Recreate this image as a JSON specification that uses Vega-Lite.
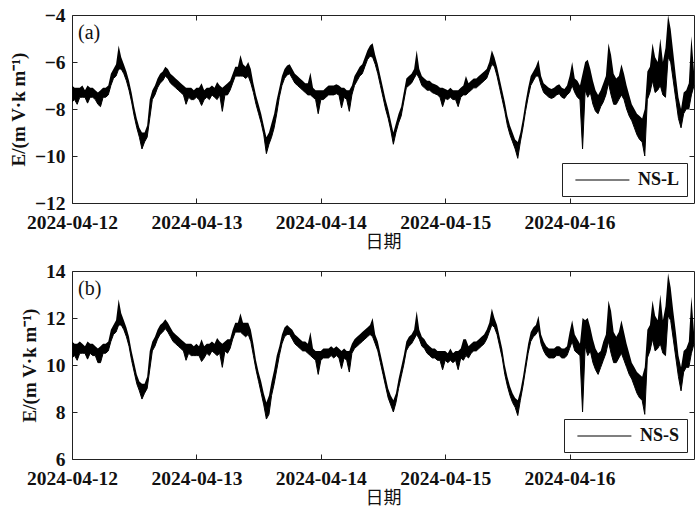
{
"$schema": "https://vega.github.io/schema/vega-lite/v6.json",
"autosize": {"type": "pad"},
"padding": {"left": 8, "top": 4, "right": 6, "bottom": 5},
"background": "white",
"bounds": "flush",
"spacing": 68,
"data": {"values": [
{"t":"2024-04-12T00:00","al":-7.7,"ah":-7.0,"bl":10.3,"bh":11.0},
{"t":"2024-04-12T00:30","al":-7.6,"ah":-7.1,"bl":10.4,"bh":10.9},
{"t":"2024-04-12T01:00","al":-7.8,"ah":-7.1,"bl":10.2,"bh":10.9},
{"t":"2024-04-12T01:30","al":-7.5,"ah":-7.1,"bl":10.5,"bh":11.0},
{"t":"2024-04-12T02:00","al":-7.5,"ah":-7.0,"bl":10.5,"bh":10.9},
{"t":"2024-04-12T02:30","al":-7.5,"ah":-7.2,"bl":10.5,"bh":10.8},
{"t":"2024-04-12T03:00","al":-7.75,"ah":-7.0,"bl":10.25,"bh":11.0},
{"t":"2024-04-12T03:30","al":-7.5,"ah":-7.1,"bl":10.5,"bh":10.9},
{"t":"2024-04-12T04:00","al":-7.5,"ah":-7.1,"bl":10.4,"bh":10.9},
{"t":"2024-04-12T04:30","al":-7.6,"ah":-7.2,"bl":10.4,"bh":10.8},
{"t":"2024-04-12T05:00","al":-7.8,"ah":-7.3,"bl":10.1,"bh":10.7},
{"t":"2024-04-12T05:30","al":-7.9,"ah":-7.2,"bl":10.1,"bh":10.8},
{"t":"2024-04-12T06:00","al":-7.5,"ah":-7.1,"bl":10.5,"bh":10.9},
{"t":"2024-04-12T06:30","al":-7.5,"ah":-7.1,"bl":10.5,"bh":10.9},
{"t":"2024-04-12T07:00","al":-7.4,"ah":-7.0,"bl":10.6,"bh":11.0},
{"t":"2024-04-12T07:30","al":-7.0,"ah":-6.5,"bl":11.0,"bh":11.5},
{"t":"2024-04-12T08:00","al":-6.7,"ah":-6.3,"bl":11.3,"bh":11.7},
{"t":"2024-04-12T08:30","al":-6.6,"ah":-6.1,"bl":11.4,"bh":11.9},
{"t":"2024-04-12T09:00","al":-6.3,"ah":-5.3,"bl":11.7,"bh":12.8},
{"t":"2024-04-12T09:30","al":-6.3,"ah":-5.8,"bl":11.7,"bh":12.2},
{"t":"2024-04-12T10:00","al":-6.5,"ah":-6.1,"bl":11.5,"bh":11.9},
{"t":"2024-04-12T10:30","al":-6.8,"ah":-6.4,"bl":11.2,"bh":11.6},
{"t":"2024-04-12T11:00","al":-7.2,"ah":-6.8,"bl":10.8,"bh":11.2},
{"t":"2024-04-12T11:30","al":-7.7,"ah":-7.3,"bl":10.2,"bh":10.6},
{"t":"2024-04-12T12:00","al":-8.3,"ah":-7.9,"bl":9.7,"bh":10.1},
{"t":"2024-04-12T12:30","al":-8.8,"ah":-8.4,"bl":9.2,"bh":9.6},
{"t":"2024-04-12T13:00","al":-9.2,"ah":-8.8,"bl":8.9,"bh":9.3},
{"t":"2024-04-12T13:30","al":-9.7,"ah":-9.0,"bl":8.55,"bh":9.2},
{"t":"2024-04-12T14:00","al":-9.4,"ah":-9.0,"bl":8.8,"bh":9.2},
{"t":"2024-04-12T14:30","al":-9.2,"ah":-8.7,"bl":9.0,"bh":9.5},
{"t":"2024-04-12T15:00","al":-8.4,"ah":-7.6,"bl":9.8,"bh":10.6},
{"t":"2024-04-12T15:30","al":-7.6,"ah":-7.2,"bl":10.6,"bh":11.0},
{"t":"2024-04-12T16:00","al":-7.4,"ah":-7.0,"bl":10.8,"bh":11.2},
{"t":"2024-04-12T16:30","al":-7.1,"ah":-6.7,"bl":11.1,"bh":11.5},
{"t":"2024-04-12T17:00","al":-6.9,"ah":-6.5,"bl":11.3,"bh":11.7},
{"t":"2024-04-12T17:30","al":-6.8,"ah":-6.4,"bl":11.4,"bh":11.8},
{"t":"2024-04-12T18:00","al":-6.6,"ah":-6.2,"bl":11.55,"bh":11.95},
{"t":"2024-04-12T18:30","al":-6.7,"ah":-6.3,"bl":11.4,"bh":11.8},
{"t":"2024-04-12T19:00","al":-6.9,"ah":-6.5,"bl":11.2,"bh":11.6},
{"t":"2024-04-12T19:30","al":-7.0,"ah":-6.6,"bl":11.0,"bh":11.4},
{"t":"2024-04-12T20:00","al":-7.1,"ah":-6.7,"bl":10.9,"bh":11.3},
{"t":"2024-04-12T20:30","al":-7.2,"ah":-6.8,"bl":10.8,"bh":11.2},
{"t":"2024-04-12T21:00","al":-7.3,"ah":-6.9,"bl":10.7,"bh":11.1},
{"t":"2024-04-12T21:30","al":-7.4,"ah":-7.0,"bl":10.6,"bh":11.0},
{"t":"2024-04-12T22:00","al":-7.8,"ah":-7.1,"bl":10.2,"bh":10.9},
{"t":"2024-04-12T22:30","al":-7.5,"ah":-7.1,"bl":10.5,"bh":10.9},
{"t":"2024-04-12T23:00","al":-7.6,"ah":-7.1,"bl":10.4,"bh":10.9},
{"t":"2024-04-12T23:30","al":-7.6,"ah":-7.2,"bl":10.4,"bh":10.8},
{"t":"2024-04-13T00:00","al":-7.5,"ah":-7.1,"bl":10.4,"bh":10.9},
{"t":"2024-04-13T00:30","al":-7.6,"ah":-7.1,"bl":10.4,"bh":10.8},
{"t":"2024-04-13T01:00","al":-7.85,"ah":-6.9,"bl":10.15,"bh":11.1},
{"t":"2024-04-13T01:30","al":-7.6,"ah":-7.2,"bl":10.3,"bh":10.8},
{"t":"2024-04-13T02:00","al":-7.5,"ah":-7.1,"bl":10.5,"bh":10.9},
{"t":"2024-04-13T02:30","al":-7.6,"ah":-7.1,"bl":10.4,"bh":10.9},
{"t":"2024-04-13T03:00","al":-7.4,"ah":-7.0,"bl":10.6,"bh":11.0},
{"t":"2024-04-13T03:30","al":-7.5,"ah":-7.1,"bl":10.5,"bh":10.9},
{"t":"2024-04-13T04:00","al":-7.6,"ah":-6.85,"bl":10.4,"bh":11.15},
{"t":"2024-04-13T04:30","al":-7.4,"ah":-7.0,"bl":10.5,"bh":11.0},
{"t":"2024-04-13T05:00","al":-8.1,"ah":-7.1,"bl":9.9,"bh":10.9},
{"t":"2024-04-13T05:30","al":-7.4,"ah":-7.0,"bl":10.6,"bh":11.0},
{"t":"2024-04-13T06:00","al":-7.4,"ah":-6.9,"bl":10.5,"bh":11.1},
{"t":"2024-04-13T06:30","al":-7.2,"ah":-6.8,"bl":10.7,"bh":11.1},
{"t":"2024-04-13T07:00","al":-6.9,"ah":-6.5,"bl":11.1,"bh":11.5},
{"t":"2024-04-13T07:30","al":-6.6,"ah":-6.2,"bl":11.4,"bh":11.8},
{"t":"2024-04-13T08:00","al":-6.6,"ah":-6.2,"bl":11.4,"bh":11.8},
{"t":"2024-04-13T08:30","al":-6.6,"ah":-5.7,"bl":11.4,"bh":12.2},
{"t":"2024-04-13T09:00","al":-6.6,"ah":-6.1,"bl":11.3,"bh":11.8},
{"t":"2024-04-13T09:30","al":-6.7,"ah":-6.2,"bl":11.2,"bh":11.8},
{"t":"2024-04-13T10:00","al":-6.6,"ah":-6.0,"bl":11.3,"bh":11.8},
{"t":"2024-04-13T10:30","al":-6.9,"ah":-6.3,"bl":11.0,"bh":11.5},
{"t":"2024-04-13T11:00","al":-7.3,"ah":-6.9,"bl":10.4,"bh":10.9},
{"t":"2024-04-13T11:30","al":-7.8,"ah":-7.4,"bl":9.8,"bh":10.2},
{"t":"2024-04-13T12:00","al":-8.2,"ah":-7.8,"bl":9.3,"bh":9.7},
{"t":"2024-04-13T12:30","al":-8.6,"ah":-8.2,"bl":8.8,"bh":9.3},
{"t":"2024-04-13T13:00","al":-9.1,"ah":-8.7,"bl":8.3,"bh":8.8},
{"t":"2024-04-13T13:30","al":-9.9,"ah":-9.2,"bl":7.7,"bh":8.4},
{"t":"2024-04-13T14:00","al":-9.5,"ah":-9.0,"bl":7.9,"bh":8.7},
{"t":"2024-04-13T14:30","al":-9.2,"ah":-8.6,"bl":8.7,"bh":9.3},
{"t":"2024-04-13T15:00","al":-8.8,"ah":-8.2,"bl":9.2,"bh":9.8},
{"t":"2024-04-13T15:30","al":-8.2,"ah":-7.6,"bl":9.8,"bh":10.4},
{"t":"2024-04-13T16:00","al":-7.5,"ah":-7.1,"bl":10.4,"bh":10.8},
{"t":"2024-04-13T16:30","al":-7.0,"ah":-6.6,"bl":10.9,"bh":11.3},
{"t":"2024-04-13T17:00","al":-6.7,"ah":-6.3,"bl":11.2,"bh":11.6},
{"t":"2024-04-13T17:30","al":-6.55,"ah":-6.15,"bl":11.3,"bh":11.7},
{"t":"2024-04-13T18:00","al":-6.5,"ah":-6.1,"bl":11.3,"bh":11.6},
{"t":"2024-04-13T18:30","al":-6.7,"ah":-6.3,"bl":11.1,"bh":11.5},
{"t":"2024-04-13T19:00","al":-6.9,"ah":-6.5,"bl":10.9,"bh":11.3},
{"t":"2024-04-13T19:30","al":-7.0,"ah":-6.6,"bl":10.8,"bh":11.2},
{"t":"2024-04-13T20:00","al":-7.1,"ah":-6.7,"bl":10.7,"bh":11.1},
{"t":"2024-04-13T20:30","al":-7.2,"ah":-6.8,"bl":10.6,"bh":11.0},
{"t":"2024-04-13T21:00","al":-7.3,"ah":-6.9,"bl":10.6,"bh":11.0},
{"t":"2024-04-13T21:30","al":-7.4,"ah":-6.9,"bl":10.5,"bh":10.9},
{"t":"2024-04-13T22:00","al":-7.4,"ah":-6.45,"bl":10.4,"bh":11.4},
{"t":"2024-04-13T22:30","al":-7.5,"ah":-7.1,"bl":10.3,"bh":10.7},
{"t":"2024-04-13T23:00","al":-7.6,"ah":-7.2,"bl":10.2,"bh":10.6},
{"t":"2024-04-13T23:30","al":-8.2,"ah":-7.2,"bl":9.6,"bh":10.6},
{"t":"2024-04-14T00:00","al":-7.6,"ah":-7.2,"bl":10.2,"bh":10.6},
{"t":"2024-04-14T00:30","al":-7.6,"ah":-7.2,"bl":10.3,"bh":10.7},
{"t":"2024-04-14T01:00","al":-7.5,"ah":-7.1,"bl":10.3,"bh":10.7},
{"t":"2024-04-14T01:30","al":-7.4,"ah":-7.0,"bl":10.3,"bh":10.7},
{"t":"2024-04-14T02:00","al":-7.4,"ah":-7.0,"bl":10.4,"bh":10.8},
{"t":"2024-04-14T02:30","al":-7.4,"ah":-7.0,"bl":10.3,"bh":10.7},
{"t":"2024-04-14T03:00","al":-7.35,"ah":-6.95,"bl":10.4,"bh":10.8},
{"t":"2024-04-14T03:30","al":-7.4,"ah":-7.0,"bl":10.3,"bh":10.7},
{"t":"2024-04-14T04:00","al":-7.95,"ah":-7.1,"bl":9.85,"bh":10.6},
{"t":"2024-04-14T04:30","al":-7.5,"ah":-7.1,"bl":10.3,"bh":10.7},
{"t":"2024-04-14T05:00","al":-7.6,"ah":-7.2,"bl":10.2,"bh":10.6},
{"t":"2024-04-14T05:30","al":-8.1,"ah":-7.2,"bl":9.7,"bh":10.6},
{"t":"2024-04-14T06:00","al":-7.4,"ah":-7.0,"bl":10.5,"bh":10.9},
{"t":"2024-04-14T06:30","al":-7.0,"ah":-6.6,"bl":10.7,"bh":11.1},
{"t":"2024-04-14T07:00","al":-6.8,"ah":-6.4,"bl":10.8,"bh":11.2},
{"t":"2024-04-14T07:30","al":-6.6,"ah":-6.2,"bl":10.9,"bh":11.3},
{"t":"2024-04-14T08:00","al":-6.5,"ah":-6.1,"bl":11.0,"bh":11.4},
{"t":"2024-04-14T08:30","al":-6.2,"ah":-5.8,"bl":11.1,"bh":11.5},
{"t":"2024-04-14T09:00","al":-5.9,"ah":-5.5,"bl":11.2,"bh":11.6},
{"t":"2024-04-14T09:30","al":-5.75,"ah":-5.3,"bl":11.3,"bh":11.7},
{"t":"2024-04-14T10:00","al":-5.8,"ah":-5.2,"bl":11.2,"bh":12.0},
{"t":"2024-04-14T10:30","al":-6.1,"ah":-5.7,"bl":10.9,"bh":11.3},
{"t":"2024-04-14T11:00","al":-6.5,"ah":-6.1,"bl":10.6,"bh":11.0},
{"t":"2024-04-14T11:30","al":-7.0,"ah":-6.6,"bl":10.1,"bh":10.5},
{"t":"2024-04-14T12:00","al":-7.5,"ah":-7.1,"bl":9.6,"bh":10.0},
{"t":"2024-04-14T12:30","al":-8.0,"ah":-7.6,"bl":9.1,"bh":9.5},
{"t":"2024-04-14T13:00","al":-8.4,"ah":-8.0,"bl":8.6,"bh":9.0},
{"t":"2024-04-14T13:30","al":-8.9,"ah":-8.5,"bl":8.3,"bh":8.7},
{"t":"2024-04-14T14:00","al":-9.5,"ah":-9.0,"bl":8.0,"bh":8.5},
{"t":"2024-04-14T14:30","al":-9.0,"ah":-8.6,"bl":8.4,"bh":8.8},
{"t":"2024-04-14T15:00","al":-8.6,"ah":-8.2,"bl":9.0,"bh":9.4},
{"t":"2024-04-14T15:30","al":-8.3,"ah":-7.9,"bl":9.5,"bh":9.9},
{"t":"2024-04-14T16:00","al":-7.7,"ah":-7.3,"bl":10.0,"bh":10.4},
{"t":"2024-04-14T16:30","al":-7.1,"ah":-6.7,"bl":10.6,"bh":11.0},
{"t":"2024-04-14T17:00","al":-7.0,"ah":-6.6,"bl":10.8,"bh":11.2},
{"t":"2024-04-14T17:30","al":-6.9,"ah":-6.5,"bl":10.9,"bh":11.3},
{"t":"2024-04-14T18:00","al":-6.7,"ah":-6.3,"bl":11.1,"bh":11.5},
{"t":"2024-04-14T18:30","al":-6.5,"ah":-5.5,"bl":11.3,"bh":12.3},
{"t":"2024-04-14T19:00","al":-6.7,"ah":-6.3,"bl":11.1,"bh":11.5},
{"t":"2024-04-14T19:30","al":-7.0,"ah":-6.6,"bl":10.8,"bh":11.2},
{"t":"2024-04-14T20:00","al":-7.1,"ah":-6.7,"bl":10.7,"bh":11.1},
{"t":"2024-04-14T20:30","al":-7.2,"ah":-6.8,"bl":10.5,"bh":10.9},
{"t":"2024-04-14T21:00","al":-7.2,"ah":-6.8,"bl":10.4,"bh":10.8},
{"t":"2024-04-14T21:30","al":-7.3,"ah":-6.9,"bl":10.3,"bh":10.7},
{"t":"2024-04-14T22:00","al":-7.35,"ah":-6.95,"bl":10.3,"bh":10.7},
{"t":"2024-04-14T22:30","al":-7.4,"ah":-7.0,"bl":10.2,"bh":10.6},
{"t":"2024-04-14T23:00","al":-7.5,"ah":-7.1,"bl":10.2,"bh":10.6},
{"t":"2024-04-14T23:30","al":-7.9,"ah":-7.1,"bl":9.8,"bh":10.6},
{"t":"2024-04-15T00:00","al":-7.55,"ah":-7.15,"bl":10.2,"bh":10.6},
{"t":"2024-04-15T00:30","al":-7.6,"ah":-7.2,"bl":10.1,"bh":10.5},
{"t":"2024-04-15T01:00","al":-7.5,"ah":-7.1,"bl":10.2,"bh":10.7},
{"t":"2024-04-15T01:30","al":-7.6,"ah":-7.2,"bl":10.1,"bh":10.5},
{"t":"2024-04-15T02:00","al":-7.6,"ah":-7.2,"bl":10.2,"bh":10.6},
{"t":"2024-04-15T02:30","al":-7.9,"ah":-7.2,"bl":9.8,"bh":10.6},
{"t":"2024-04-15T03:00","al":-7.5,"ah":-7.1,"bl":10.3,"bh":10.7},
{"t":"2024-04-15T03:30","al":-7.4,"ah":-7.0,"bl":10.2,"bh":11.1},
{"t":"2024-04-15T04:00","al":-7.4,"ah":-6.6,"bl":10.4,"bh":11.1},
{"t":"2024-04-15T04:30","al":-7.3,"ah":-6.9,"bl":10.3,"bh":10.8},
{"t":"2024-04-15T05:00","al":-7.2,"ah":-6.8,"bl":10.5,"bh":10.9},
{"t":"2024-04-15T05:30","al":-7.1,"ah":-6.7,"bl":10.6,"bh":11.0},
{"t":"2024-04-15T06:00","al":-7.1,"ah":-6.7,"bl":10.6,"bh":11.0},
{"t":"2024-04-15T06:30","al":-7.0,"ah":-6.6,"bl":10.7,"bh":11.1},
{"t":"2024-04-15T07:00","al":-6.9,"ah":-6.5,"bl":10.8,"bh":11.2},
{"t":"2024-04-15T07:30","al":-6.8,"ah":-6.4,"bl":10.9,"bh":11.3},
{"t":"2024-04-15T08:00","al":-6.7,"ah":-6.3,"bl":11.1,"bh":11.5},
{"t":"2024-04-15T08:30","al":-6.4,"ah":-6.0,"bl":11.4,"bh":11.8},
{"t":"2024-04-15T09:00","al":-6.1,"ah":-5.5,"bl":11.7,"bh":12.4},
{"t":"2024-04-15T09:30","al":-6.2,"ah":-5.8,"bl":11.6,"bh":12.0},
{"t":"2024-04-15T10:00","al":-6.6,"ah":-6.2,"bl":11.3,"bh":11.7},
{"t":"2024-04-15T10:30","al":-7.1,"ah":-6.7,"bl":10.8,"bh":11.2},
{"t":"2024-04-15T11:00","al":-7.6,"ah":-7.2,"bl":10.3,"bh":10.7},
{"t":"2024-04-15T11:30","al":-8.1,"ah":-7.7,"bl":9.6,"bh":10.0},
{"t":"2024-04-15T12:00","al":-8.7,"ah":-8.3,"bl":9.1,"bh":9.5},
{"t":"2024-04-15T12:30","al":-9.1,"ah":-8.7,"bl":8.7,"bh":9.1},
{"t":"2024-04-15T13:00","al":-9.4,"ah":-9.0,"bl":8.4,"bh":8.8},
{"t":"2024-04-15T13:30","al":-9.7,"ah":-9.3,"bl":8.2,"bh":8.6},
{"t":"2024-04-15T14:00","al":-10.1,"ah":-9.4,"bl":7.85,"bh":8.5},
{"t":"2024-04-15T14:30","al":-9.4,"ah":-9.0,"bl":8.5,"bh":8.9},
{"t":"2024-04-15T15:00","al":-8.8,"ah":-8.4,"bl":9.1,"bh":9.5},
{"t":"2024-04-15T15:30","al":-8.1,"ah":-7.7,"bl":9.8,"bh":10.2},
{"t":"2024-04-15T16:00","al":-7.5,"ah":-7.1,"bl":10.5,"bh":10.9},
{"t":"2024-04-15T16:30","al":-7.0,"ah":-6.6,"bl":11.0,"bh":11.4},
{"t":"2024-04-15T17:00","al":-6.8,"ah":-6.4,"bl":11.2,"bh":11.6},
{"t":"2024-04-15T17:30","al":-6.6,"ah":-6.2,"bl":11.3,"bh":11.7},
{"t":"2024-04-15T18:00","al":-6.6,"ah":-5.9,"bl":11.5,"bh":12.1},
{"t":"2024-04-15T18:30","al":-7.0,"ah":-6.6,"bl":10.9,"bh":11.3},
{"t":"2024-04-15T19:00","al":-7.3,"ah":-6.9,"bl":10.6,"bh":11.0},
{"t":"2024-04-15T19:30","al":-7.4,"ah":-7.0,"bl":10.4,"bh":10.8},
{"t":"2024-04-15T20:00","al":-7.5,"ah":-7.1,"bl":10.3,"bh":10.7},
{"t":"2024-04-15T20:30","al":-7.55,"ah":-7.15,"bl":10.3,"bh":10.7},
{"t":"2024-04-15T21:00","al":-7.5,"ah":-7.1,"bl":10.3,"bh":10.7},
{"t":"2024-04-15T21:30","al":-7.4,"ah":-7.0,"bl":10.4,"bh":10.8},
{"t":"2024-04-15T22:00","al":-7.35,"ah":-6.95,"bl":10.4,"bh":10.8},
{"t":"2024-04-15T22:30","al":-7.5,"ah":-7.1,"bl":10.3,"bh":10.7},
{"t":"2024-04-15T23:00","al":-7.55,"ah":-7.15,"bl":10.3,"bh":10.7},
{"t":"2024-04-15T23:30","al":-7.4,"ah":-7.0,"bl":10.4,"bh":10.8},
{"t":"2024-04-16T00:00","al":-7.3,"ah":-6.6,"bl":10.7,"bh":11.4},
{"t":"2024-04-16T00:30","al":-7.0,"ah":-6.0,"bl":11.0,"bh":11.9},
{"t":"2024-04-16T01:00","al":-7.3,"ah":-6.7,"bl":10.6,"bh":11.3},
{"t":"2024-04-16T01:30","al":-7.5,"ah":-6.8,"bl":10.5,"bh":11.1},
{"t":"2024-04-16T02:00","al":-7.6,"ah":-7.0,"bl":10.4,"bh":10.9},
{"t":"2024-04-16T02:30","al":-9.7,"ah":-6.5,"bl":8.0,"bh":12.0},
{"t":"2024-04-16T03:00","al":-7.2,"ah":-6.0,"bl":10.8,"bh":11.9},
{"t":"2024-04-16T03:30","al":-7.5,"ah":-5.9,"bl":10.4,"bh":12.0},
{"t":"2024-04-16T04:00","al":-7.3,"ah":-6.3,"bl":10.6,"bh":11.6},
{"t":"2024-04-16T04:30","al":-7.8,"ah":-6.8,"bl":10.1,"bh":11.1},
{"t":"2024-04-16T05:00","al":-8.1,"ah":-7.2,"bl":9.8,"bh":10.7},
{"t":"2024-04-16T05:30","al":-8.2,"ah":-7.4,"bl":9.6,"bh":10.5},
{"t":"2024-04-16T06:00","al":-7.9,"ah":-7.2,"bl":9.9,"bh":10.6},
{"t":"2024-04-16T06:30","al":-7.7,"ah":-6.9,"bl":10.2,"bh":11.0},
{"t":"2024-04-16T07:00","al":-7.4,"ah":-6.6,"bl":10.5,"bh":11.3},
{"t":"2024-04-16T07:30","al":-6.9,"ah":-5.2,"bl":11.0,"bh":12.75},
{"t":"2024-04-16T08:00","al":-7.4,"ah":-5.7,"bl":10.5,"bh":12.3},
{"t":"2024-04-16T08:30","al":-7.8,"ah":-6.5,"bl":10.1,"bh":11.4},
{"t":"2024-04-16T09:00","al":-7.8,"ah":-6.7,"bl":10.1,"bh":11.2},
{"t":"2024-04-16T09:30","al":-7.6,"ah":-6.6,"bl":10.3,"bh":11.4},
{"t":"2024-04-16T10:00","al":-7.4,"ah":-6.1,"bl":10.5,"bh":11.9},
{"t":"2024-04-16T10:30","al":-7.6,"ah":-6.5,"bl":10.2,"bh":11.4},
{"t":"2024-04-16T11:00","al":-8.0,"ah":-7.0,"bl":9.9,"bh":10.9},
{"t":"2024-04-16T11:30","al":-8.3,"ah":-7.4,"bl":9.6,"bh":10.5},
{"t":"2024-04-16T12:00","al":-8.5,"ah":-7.8,"bl":9.4,"bh":10.1},
{"t":"2024-04-16T12:30","al":-8.8,"ah":-8.0,"bl":9.1,"bh":9.9},
{"t":"2024-04-16T13:00","al":-9.1,"ah":-8.2,"bl":8.8,"bh":9.7},
{"t":"2024-04-16T13:30","al":-9.3,"ah":-8.3,"bl":8.6,"bh":9.6},
{"t":"2024-04-16T14:00","al":-9.4,"ah":-8.4,"bl":8.5,"bh":9.5},
{"t":"2024-04-16T14:30","al":-10.0,"ah":-8.0,"bl":7.9,"bh":9.9},
{"t":"2024-04-16T15:00","al":-7.6,"ah":-6.4,"bl":10.3,"bh":11.5},
{"t":"2024-04-16T15:30","al":-7.3,"ah":-6.2,"bl":10.6,"bh":11.7},
{"t":"2024-04-16T16:00","al":-6.8,"ah":-5.2,"bl":11.1,"bh":12.75},
{"t":"2024-04-16T16:30","al":-7.3,"ah":-5.8,"bl":10.6,"bh":12.1},
{"t":"2024-04-16T17:00","al":-7.2,"ah":-6.0,"bl":10.7,"bh":11.9},
{"t":"2024-04-16T17:30","al":-7.0,"ah":-5.0,"bl":10.9,"bh":13.0},
{"t":"2024-04-16T18:00","al":-7.4,"ah":-6.0,"bl":10.5,"bh":11.9},
{"t":"2024-04-16T18:30","al":-7.5,"ah":-5.4,"bl":10.4,"bh":12.5},
{"t":"2024-04-16T19:00","al":-5.8,"ah":-4.0,"bl":12.1,"bh":13.9},
{"t":"2024-04-16T19:30","al":-6.0,"ah":-4.6,"bl":11.9,"bh":13.3},
{"t":"2024-04-16T20:00","al":-6.8,"ah":-5.6,"bl":11.1,"bh":12.3},
{"t":"2024-04-16T20:30","al":-7.6,"ah":-6.6,"bl":10.3,"bh":11.4},
{"t":"2024-04-16T21:00","al":-8.4,"ah":-7.5,"bl":9.5,"bh":10.4},
{"t":"2024-04-16T21:30","al":-8.8,"ah":-8.0,"bl":8.9,"bh":9.9},
{"t":"2024-04-16T22:00","al":-8.2,"ah":-7.3,"bl":9.7,"bh":10.6},
{"t":"2024-04-16T22:30","al":-8.0,"ah":-7.2,"bl":9.9,"bh":10.7},
{"t":"2024-04-16T23:00","al":-8.0,"ah":-6.9,"bl":9.9,"bh":11.0},
{"t":"2024-04-16T23:30","al":-7.4,"ah":-4.9,"bl":10.5,"bh":12.9},
{"t":"2024-04-17T00:00","al":-7.0,"ah":-6.4,"bl":10.9,"bh":11.4}
]},
"config": {
  "view": {"stroke": "#222222", "strokeWidth": 1},
  "axis": {
    "labelFont": "Liberation Serif", "labelFontSize": 19.5, "labelFontWeight": "bold", "labelColor": "#111111",
    "tickColor": "#222222", "tickSize": -5, "domain": false, "grid": false,
    "titleFont": "Liberation Serif", "titleFontSize": 19, "titleFontWeight": "bold", "titleColor": "#111111"
  },
  "legend": {
    "orient": "bottom-right", "offset": 7, "title": null, "strokeColor": "#222222", "fillColor": "white",
    "padding": 7, "symbolType": "M-0.4,0H5.6", "symbolSize": 324, "symbolStrokeWidth": 1.2,
    "symbolStrokeColor": "black", "symbolFillColor": "transparent", "labelOffset": 49,
    "labelFont": "Liberation Serif", "labelFontSize": 18, "labelFontWeight": "bold", "labelColor": "#111111"
  },
  "title": {"anchor": "start", "frame": "group", "font": "Liberation Serif", "fontSize": 20, "fontWeight": "normal", "color": "#111111", "baseline": "alphabetic", "offset": -38, "dx": 6}
},
"resolve": {"scale": {"color": "independent"}, "legend": {"color": "independent"}},
"vconcat": [
  {
    "width": 622, "height": 188,
    "title": {"text": "(a)"},
    "layer": [
      {
        "mark": {"type": "area", "color": "black", "interpolate": "linear"},
        "encoding": {
          "x": {"field": "t", "type": "temporal",
                "scale": {"domain": [{"year": 2024, "month": 4, "date": 12}, {"year": 2024, "month": 4, "date": 17}]},
                "axis": {"values": [{"year": 2024, "month": 4, "date": 12}, {"year": 2024, "month": 4, "date": 13}, {"year": 2024, "month": 4, "date": 14}, {"year": 2024, "month": 4, "date": 15}, {"year": 2024, "month": 4, "date": 16}],
                         "format": "%Y-%m-%d", "labelFlush": false, "labelPadding": 15, "title": "日期",
                         "titleFont": "Noto Sans CJK SC", "titleFontWeight": "normal", "titleFontSize": 18, "titlePadding": 2}},
          "y": {"field": "al", "type": "quantitative", "scale": {"domain": [-12, -4]},
                "axis": {"values": [-12, -10, -8, -6, -4], "labelPadding": 12, "title": "E/(m V·k m⁻¹)", "titlePadding": 6}},
          "y2": {"field": "ah"}
        }
      },
      {
        "mark": {"type": "line", "strokeWidth": 1, "interpolate": "linear"},
        "encoding": {
          "x": {"field": "t", "type": "temporal",
                "scale": {"domain": [{"year": 2024, "month": 4, "date": 12}, {"year": 2024, "month": 4, "date": 17}]},
                "axis": {"orient": "top", "labels": false, "title": null, "values": [{"year": 2024, "month": 4, "date": 13}, {"year": 2024, "month": 4, "date": 14}, {"year": 2024, "month": 4, "date": 15}, {"year": 2024, "month": 4, "date": 16}]}},
          "y": {"field": "al", "type": "quantitative", "scale": {"domain": [-12, -4]},
                "axis": {"orient": "right", "labels": false, "title": null, "values": [-10, -8, -6]}},
          "color": {"datum": "NS-L", "type": "nominal", "scale": {"range": ["black"]}}
        }
      }
    ],
    "resolve": {"scale": {"x": "independent", "y": "independent"}}
  },
  {
    "width": 622, "height": 188,
    "title": {"text": "(b)"},
    "layer": [
      {
        "mark": {"type": "area", "color": "black", "interpolate": "linear"},
        "encoding": {
          "x": {"field": "t", "type": "temporal",
                "scale": {"domain": [{"year": 2024, "month": 4, "date": 12}, {"year": 2024, "month": 4, "date": 17}]},
                "axis": {"values": [{"year": 2024, "month": 4, "date": 12}, {"year": 2024, "month": 4, "date": 13}, {"year": 2024, "month": 4, "date": 14}, {"year": 2024, "month": 4, "date": 15}, {"year": 2024, "month": 4, "date": 16}],
                         "format": "%Y-%m-%d", "labelFlush": false, "labelPadding": 15, "title": "日期",
                         "titleFont": "Noto Sans CJK SC", "titleFontWeight": "normal", "titleFontSize": 18, "titlePadding": 2}},
          "y": {"field": "bl", "type": "quantitative", "scale": {"domain": [6, 14]},
                "axis": {"values": [6, 8, 10, 12, 14], "labelPadding": 12, "title": "E/(m V·k m⁻¹)", "titlePadding": 6}},
          "y2": {"field": "bh"}
        }
      },
      {
        "mark": {"type": "line", "strokeWidth": 1, "interpolate": "linear"},
        "encoding": {
          "x": {"field": "t", "type": "temporal",
                "scale": {"domain": [{"year": 2024, "month": 4, "date": 12}, {"year": 2024, "month": 4, "date": 17}]},
                "axis": {"orient": "top", "labels": false, "title": null, "values": [{"year": 2024, "month": 4, "date": 13}, {"year": 2024, "month": 4, "date": 14}, {"year": 2024, "month": 4, "date": 15}, {"year": 2024, "month": 4, "date": 16}]}},
          "y": {"field": "bl", "type": "quantitative", "scale": {"domain": [6, 14]},
                "axis": {"orient": "right", "labels": false, "title": null, "values": [8, 10, 12]}},
          "color": {"datum": "NS-S", "type": "nominal", "scale": {"range": ["black"]}}
        }
      }
    ],
    "resolve": {"scale": {"x": "independent", "y": "independent"}}
  }
]
}
